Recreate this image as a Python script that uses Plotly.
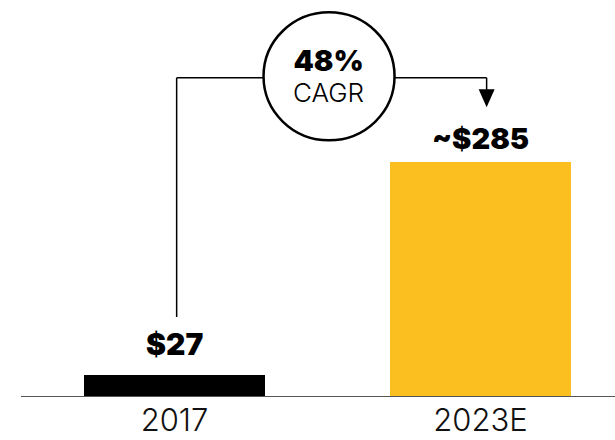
import plotly.graph_objects as go

# Market size (US$), actual vs. estimate
categories = ["2017", "2023E"]
values = [27, 285]
value_labels = ["$27", "~$285"]
bar_colors = ["#000000", "#FBC020"]
cagr_value = "48%"
cagr_label = "CAGR"

FONT = "Inter"

fig = go.Figure()
fig.add_trace(go.Bar(
    x=[0, 1],
    y=values,
    width=0.5915,
    marker=dict(color=bar_colors, line=dict(width=0)),
    hoverinfo="skip",
))

# value labels above the bars
for i, (v, lab, shift, size) in enumerate(zip(values, value_labels, [31, 24], [30, 29])):
    fig.add_annotation(
        x=i, y=v, text=lab, showarrow=False, xref="x", yref="y",
        yanchor="middle", yshift=shift,
        font=dict(family=FONT, size=size, color="#000000", weight=900),
    )

# baseline
fig.add_shape(type="line", xref="x", yref="y", x0=-0.5016, x1=1.44, y0=0, y1=0,
              line=dict(color="#555555", width=2))

# CAGR connector: from the 2017 bar up, across through the bubble, down to 2023E
conn_y = 387.2
circle_x = 0.505
line_style = dict(color="#000000", width=1.5)
fig.add_shape(type="line", xref="x", yref="y", x0=0.007, x1=0.007, y0=97, y1=conn_y, line=line_style)
fig.add_shape(type="line", xref="x", yref="y", x0=0.007, x1=0.29, y0=conn_y, y1=conn_y, line=line_style)
fig.add_shape(type="line", xref="x", yref="y", x0=0.72, x1=1.02, y0=conn_y, y1=conn_y, line=line_style)
fig.add_shape(type="line", xref="x", yref="y", x0=1.02, x1=1.02, y0=conn_y, y1=370, line=line_style)
# arrowhead
fig.add_shape(type="path", xref="x", yref="y", xsizemode="pixel", ysizemode="pixel",
              xanchor=1.02, yanchor=351.5,
              path="M -8 18 L 8 18 L 0 0 Z",
              fillcolor="#000000", line=dict(width=0))
# bubble
fig.add_shape(type="circle", xref="x", yref="y", xsizemode="pixel", ysizemode="pixel",
              xanchor=circle_x, yanchor=389, x0=-65.5, x1=65.5, y0=-64, y1=64,
              fillcolor="#ffffff", line=dict(color="#000000", width=2.5))
fig.add_annotation(
    x=circle_x, y=389, xref="x", yref="y", showarrow=False, xshift=-1, yshift=1,
    text=(f'<span style="font-size:29px;font-weight:900">{cagr_value}</span><br>'
          f'<span style="font-size:26px;font-weight:300">{cagr_label}</span>'),
    font=dict(family=FONT, size=24, color="#000000"),
)

fig.update_layout(
    width=615, height=440,
    margin=dict(l=0, r=0, t=0, b=43),
    paper_bgcolor="#ffffff", plot_bgcolor="#ffffff",
    showlegend=False,
    bargap=0,
)
fig.update_xaxes(
    range=[-0.5703, 1.4395],
    tickmode="array", tickvals=[0, 1], ticktext=categories,
    showgrid=False, zeroline=False, showline=False, ticks="",
    automargin=False,
    ticklabelstandoff=2,
    tickfont=dict(family=FONT, size=31, color="#111111", weight=300),
)
fig.update_yaxes(range=[0, 481.5], visible=False, showgrid=False, zeroline=False,
                 automargin=False)

fig.write_html("out.html")
